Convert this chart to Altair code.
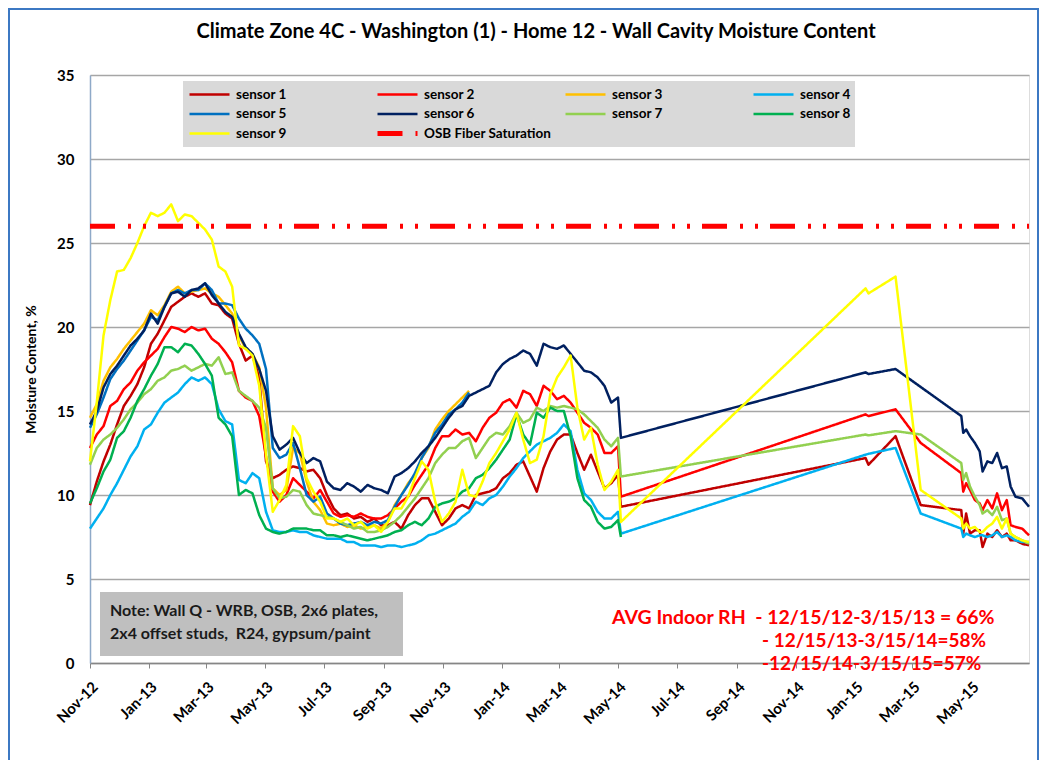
import altair as alt
import pandas as pd

# ---------------- text ----------------
title_text = "Climate Zone 4C - Washington (1) - Home 12 - Wall Cavity Moisture Content"
y_title = "Moisture Content, %"
note_lines = ["Note: Wall Q - WRB, OSB, 2x6 plates,", "2x4 offset studs,\u00a0 R24, gypsum/paint"]
rh_lines = ["AVG Indoor RH\u00a0 - 12/15/12-3/15/13 = 66%", "- 12/15/13-3/15/14=58%", "-12/15/14-3/15/15=57%"]

# ---------------- series ----------------
series_names = ["sensor 1", "sensor 2", "sensor 3", "sensor 4", "sensor 5",
                "sensor 6", "sensor 7", "sensor 8", "sensor 9"]
series_colors = ["#C00000", "#FF0000", "#FFC000", "#00B0F0", "#0070C0",
                 "#002060", "#92D050", "#00B050", "#FFFF00"]
osb_name = "OSB Fiber Saturation"
osb_color = "#FF0000"

# weekly readings from 2012-11-01 (79 weeks, to 2014-05-01)
weekly_start = "2012-11-01"
weekly_count = 79

s1_weekly = [9.4, 10.8, 12.0, 13.0, 14.2, 15.3, 15.9, 16.6, 17.6, 19.0, 19.6, 20.4, 21.2, 21.5, 21.8, 22.0, 21.8, 22.0, 21.4, 21.3, 20.8, 20.5, 19.0, 18.0, 18.3, 17.0, 12.0,
             11.0, 11.2, 11.5, 11.7, 11.6, 11.4, 11.5, 11.0, 10.0, 9.2, 8.8, 8.9, 8.6, 8.7, 8.4, 8.6, 8.2, 8.2, 8.4, 8.0, 8.8, 9.4, 9.8, 9.8,
             9.0, 8.2, 8.6, 9.2, 9.4, 9.2, 10.0, 10.1, 10.2, 10.4, 11.0, 11.3, 11.8, 12.0, 11.1, 10.2, 11.6, 12.6, 13.3, 13.6, 13.6, 12.5, 11.5, 12.4, 11.4, 10.4, 10.7, 11.2]
s2_weekly = [12.8, 13.6, 14.1, 15.3, 15.6, 16.3, 16.7, 17.4, 17.9, 18.3, 18.7, 19.4, 20.0, 19.9, 19.7, 20.0, 19.8, 19.9, 19.3, 19.0, 18.5, 17.9, 16.2, 15.8, 15.6, 14.7, 12.3,
             10.2, 9.6, 10.0, 11.0, 10.6, 10.2, 9.8, 10.3, 9.6, 8.9, 8.7, 8.8, 8.7, 8.9, 8.7, 8.6, 8.6, 8.8, 9.2, 9.6, 9.9, 10.6, 11.2, 11.8,
             12.8, 13.5, 13.5, 13.9, 13.6, 13.7, 13.2, 14.0, 14.6, 14.9, 15.5, 15.7, 15.2, 16.2, 16.0, 15.3, 16.5, 16.2, 15.7, 15.9, 15.5, 14.9, 14.3, 14.0, 13.6, 12.5, 12.5, 12.9]
s3_weekly = [14.6, 15.4, 16.8, 17.6, 18.1, 18.7, 19.2, 19.7, 20.2, 21.0, 20.7, 21.3, 22.1, 22.4, 22.0, 22.1, 22.2, 22.3, 22.0, 21.8, 21.3, 20.8, 19.5, 18.7, 18.4, 17.6, 15.2,
             10.4, 10.0, 10.3, 12.8, 12.5, 10.8, 9.6, 9.1, 8.3, 8.2, 8.3, 8.1, 8.2, 8.0, 8.1, 8.2, 8.0, 8.4, 9.4, 10.0, 10.7, 11.2, 12.2, 12.8,
             13.9, 14.5, 15.0, 15.4, 15.8, 16.2]
s4_weekly = [8.0, 8.6, 9.2, 10.0, 10.7, 11.5, 12.3, 12.9, 13.9, 14.2, 14.9, 15.5, 15.8, 16.1, 16.6, 17.0, 16.8, 17.0, 16.6, 15.1, 14.4, 14.2, 10.9, 10.7, 11.3, 11.0, 9.0,
             7.9, 7.8, 7.8, 7.9, 7.8, 7.8, 7.6, 7.5, 7.4, 7.4, 7.4, 7.2, 7.2, 7.0, 7.0, 7.0, 6.9, 7.0, 7.0, 6.9, 7.0, 7.1, 7.3, 7.6,
             7.7, 7.9, 8.1, 8.3, 8.7, 9.0, 9.6, 9.4, 9.8, 10.0, 10.5, 11.1, 11.6, 12.2, 12.6, 13.0, 13.2, 13.4, 13.7, 14.2, 13.8, 11.5, 10.1, 9.7, 9.0, 8.6, 8.6, 9.0]
s5_weekly = [14.0, 14.8, 15.8, 16.9, 17.5, 18.0, 18.6, 19.2, 19.8, 20.6, 20.4, 21.2, 22.0, 22.2, 22.0, 22.2, 22.2, 22.6, 22.2, 21.4, 21.4, 21.3, 20.5, 19.9, 19.5, 19.0, 17.5,
             12.8, 12.2, 12.4, 13.1, 11.6, 10.0, 9.6, 9.9, 8.9, 8.6, 8.3, 8.2, 8.3, 8.4, 8.2, 8.4, 8.3, 8.5, 9.3, 10.0, 10.6, 11.3, 12.2, 12.9,
             13.7, 14.2, 14.8, 15.1, 15.5, 16.1]
s6_weekly = [14.2, 15.0, 16.4, 17.2, 17.7, 18.3, 18.9, 19.3, 19.8, 20.8, 20.2, 21.2, 22.0, 22.1, 21.8, 22.2, 22.3, 22.6, 21.9, 21.4, 20.9, 20.6, 19.6, 18.8, 18.4, 17.5, 16.2,
             13.5, 12.7, 13.0, 13.4, 12.5, 11.9, 12.2, 12.0, 10.8, 10.4, 10.3, 10.7, 10.5, 10.2, 10.6, 10.4, 10.3, 10.1, 11.1, 11.3, 11.6, 12.0, 12.5, 12.9,
             13.4, 14.0, 14.6, 15.1, 15.3, 15.9, 16.1, 16.3, 16.5, 17.3, 17.8, 18.1, 18.3, 18.6, 18.4, 17.7, 19.0, 18.8, 18.7, 18.9, 18.4, 17.9, 17.4, 17.3, 17.0, 16.5, 15.5, 15.8]
s7_weekly = [11.8, 12.8, 13.3, 13.6, 14.0, 14.5, 15.1, 15.5, 16.0, 16.3, 16.8, 17.0, 17.4, 17.5, 17.7, 17.4, 17.6, 17.8, 17.7, 18.2, 17.2, 17.3, 16.2, 15.9, 15.6, 15.2, 14.0,
             10.4, 9.8, 9.9, 10.3, 10.2, 9.4, 8.9, 8.8, 8.7, 8.6, 8.4, 8.2, 8.0, 8.1, 7.8, 7.8, 7.9, 8.1, 8.4, 8.8, 9.3, 9.8, 10.4, 11.0,
             11.9, 12.4, 12.8, 12.8, 13.2, 13.4, 12.2, 12.8, 13.4, 13.7, 13.6, 14.1, 14.9, 14.3, 14.5, 15.2, 15.0, 15.3, 15.2, 15.3, 15.2, 15.1, 14.8, 14.4, 14.0, 13.3, 12.9, 13.4]
s8_weekly = [9.5, 10.4, 11.4, 12.1, 13.4, 13.8, 14.6, 15.6, 16.3, 17.1, 17.8, 18.8, 18.8, 18.5, 19.0, 18.9, 18.4, 17.8, 17.1, 14.6, 14.2, 13.5, 10.0, 10.3, 10.1, 8.8, 8.0,
             7.8, 7.7, 7.8, 8.0, 8.0, 8.0, 7.9, 7.9, 7.6, 7.6, 7.5, 7.6, 7.5, 7.4, 7.3, 7.4, 7.5, 7.6, 7.8, 7.9, 8.2, 8.4, 8.2, 8.6,
             9.3, 9.5, 9.6, 9.8, 10.2, 10.4, 11.0, 11.2, 11.6, 12.1, 12.7, 13.3, 14.8, 13.6, 13.0, 14.9, 14.6, 15.2, 15.0, 15.0, 13.5, 11.0, 9.7, 9.3, 8.4, 8.0, 8.1, 8.5]
s9_weekly = [12.0, 15.5, 19.5, 21.6, 23.3, 23.4, 24.1, 25.0, 26.0, 26.8, 26.6, 26.8, 27.3, 26.3, 26.7, 26.6, 26.2, 25.8, 25.2, 23.6, 23.3, 22.4, 18.9, 18.7, 18.3, 16.5, 12.4,
             9.0, 9.7, 10.6, 14.1, 13.5, 11.0, 10.2, 9.6, 8.6, 8.6, 8.4, 8.6, 8.2, 8.4, 8.0, 8.2, 7.8, 8.4, 9.2, 9.2, 9.9, 11.0, 12.0, 11.5,
             9.6, 8.4, 8.9, 9.6, 11.5, 10.0, 9.9, 10.8, 11.9, 12.5, 13.2, 13.9, 14.9, 13.3, 11.9, 12.1, 13.5, 16.0, 17.0, 17.6, 18.3, 15.2, 13.3, 14.0, 11.8, 10.3, 10.8, 11.5]

# readings after the weekly block (gap in logging May 2014 - Jan 2015)
gap_dates = ["2014-05-04", "2015-01-12", "2015-01-15", "2015-02-12", "2015-03-10"]
gap_dates_s6 = ["2014-05-04", "2015-01-12", "2015-01-15", "2015-02-12"]
gap_dates_s8 = ["2014-05-04"]
end_dates = ["2015-04-21", "2015-04-23", "2015-04-26", "2015-04-30", "2015-05-05", "2015-05-10",
             "2015-05-13", "2015-05-18", "2015-05-23", "2015-05-28", "2015-06-02", "2015-06-07",
             "2015-06-11", "2015-06-16", "2015-06-23", "2015-06-30"]

s1_gap = [9.3, 12.2, 11.8, 13.5, 9.4]
s1_end = [9.1, 7.7, 8.9, 7.7, 7.9, 7.9, 6.9, 7.7, 7.5, 7.9, 7.5, 7.7, 7.3, 7.3, 7.1, 7.0]
s2_gap = [9.9, 14.8, 14.7, 15.1, 13.1]
s2_end = [11.3, 10.2, 10.7, 10.3, 9.7, 9.5, 9.1, 9.7, 9.2, 10.1, 9.1, 9.7, 8.2, 8.1, 8.0, 7.6]
s4_gap = [7.7, 12.4, 12.45, 12.8, 8.9]
s4_end = [8.0, 7.5, 7.7, 7.6, 7.5, 7.6, 7.6, 7.5, 7.6, 7.8, 7.5, 7.6, 7.5, 7.3, 7.2, 7.2]
s6_gap = [13.4, 17.3, 17.2, 17.5]
s6_end = [14.7, 13.7, 13.9, 13.5, 13.1, 12.6, 11.4, 12.0, 11.9, 12.5, 11.6, 11.7, 10.5, 9.9, 9.8, 9.3]
s7_gap = [11.1, 13.6, 13.55, 13.8, 13.6]
s7_end = [11.9, 10.9, 11.3, 10.5, 9.9, 9.4, 8.9, 9.1, 8.8, 9.3, 8.5, 8.6, 7.7, 7.5, 7.3, 7.1]
s8_gap = [7.5]
s9_gap = [8.4, 22.3, 22.0, 23.0, 10.3]
s9_end = [8.6, 8.0, 8.3, 8.0, 8.1, 7.8, 7.8, 8.1, 8.3, 8.7, 8.0, 8.6, 7.7, 7.5, 7.3, 7.2]

osb_dates = ["2012-11-01", "2015-06-30"]
osb_values = [26, 26]

# ---------------- table ----------------
weekly_dates = pd.date_range(weekly_start, periods=weekly_count, freq="7D").strftime("%Y-%m-%d").tolist()

parts = {
    "sensor 1": [(weekly_dates, s1_weekly), (gap_dates, s1_gap), (end_dates, s1_end)],
    "sensor 2": [(weekly_dates, s2_weekly), (gap_dates, s2_gap), (end_dates, s2_end)],
    "sensor 3": [(weekly_dates, s3_weekly)],
    "sensor 4": [(weekly_dates, s4_weekly), (gap_dates, s4_gap), (end_dates, s4_end)],
    "sensor 5": [(weekly_dates, s5_weekly)],
    "sensor 6": [(weekly_dates, s6_weekly), (gap_dates_s6, s6_gap), (end_dates, s6_end)],
    "sensor 7": [(weekly_dates, s7_weekly), (gap_dates, s7_gap), (end_dates, s7_end)],
    "sensor 8": [(weekly_dates, s8_weekly), (gap_dates_s8, s8_gap)],
    "sensor 9": [(weekly_dates, s9_weekly), (gap_dates, s9_gap), (end_dates, s9_end)],
}
rows = []
for name in series_names:
    for dts, vals in parts[name]:
        for d, v in zip(dts, vals):
            rows.append({"date": d, "value": v, "series": name})
df = pd.DataFrame(rows)
osb_df = pd.DataFrame({"date": osb_dates, "value": osb_values, "series": [osb_name] * len(osb_dates)})

# ---------------- encodings ----------------
FONT = "Lato"
names_all = series_names + [osb_name]
color_scale = alt.Scale(domain=names_all, range=series_colors + [osb_color])
dash_scale = alt.Scale(domain=names_all, range=[[1, 0]] * 9 + [[25, 13, 3, 12, 3, 12]])
width_scale = alt.Scale(type="ordinal", domain=names_all, range=[2.5] * 9 + [5])

leg = alt.Legend(title=None, orient="none", legendX=93, legendY=6, columns=4, direction="horizontal",
                 fillColor="#D9D9D9", padding=4, symbolType="stroke", symbolSize=1600, clipHeight=19,
                 labelFont=FONT, labelFontSize=13.5, labelFontWeight="bold", labelColor="#000000",
                 gridAlign="all", columnPadding=11, rowPadding=0.5, labelLimit=300, labelOffset=4)

x_axis = alt.Axis(title=None, format="%b-%y", tickCount={"interval": "month", "step": 2},
                  labelAngle=-45, labelAlign="right", labelBaseline="top", labelPadding=11,
                  labelFont=FONT, labelFontSize=15, labelFontWeight="bold", labelColor="#000000",
                  grid=False, domainColor="#868686", domainWidth=1.5, tickColor="#868686", tickSize=5,
                  labelOverlap=False, labelFlush=False)
y_axis = alt.Axis(title=y_title, values=[0, 5, 10, 15, 20, 25, 30, 35], grid=True,
                  gridColor="#A6A6A6", gridWidth=1.3, domainColor="#8EA9C8", domainWidth=1.5,
                  ticks=False, labelPadding=16, labelFont=FONT, labelFontSize=15,
                  labelFontWeight="bold", labelColor="#000000", titleFont=FONT, titleFontSize=14,
                  titleFontWeight="bold", titleColor="#000000", titlePadding=18)

x_enc = alt.X("date:T", axis=x_axis,
              scale=alt.Scale(domain=[alt.DateTime(year=2012, month=11, date=1),
                                      alt.DateTime(year=2015, month=6, date=30)], nice=False))
y_enc = alt.Y("value:Q", axis=y_axis, scale=alt.Scale(domain=[0, 35], nice=False))

def line_enc(chart):
    return chart.encode(
        x=x_enc, y=y_enc,
        color=alt.Color("series:N", scale=color_scale, legend=leg),
        strokeDash=alt.StrokeDash("series:N", scale=dash_scale, legend=leg),
        strokeWidth=alt.StrokeWidth("series:N", scale=width_scale, legend=leg),
    )

layers = []
for name in series_names:
    layers.append(line_enc(alt.Chart(df).transform_filter(alt.datum.series == name)
                           .mark_line(strokeJoin="round")))
layers.append(line_enc(alt.Chart(osb_df).mark_line()))

def text_layer(txt, x, y, size, color, align="left"):
    return alt.Chart(pd.DataFrame({"t": [txt]})).mark_text(
        align=align, baseline="middle", font=FONT, fontSize=size, fontWeight="bold", color=color
    ).encode(text="t:N", x=alt.value(x), y=alt.value(y))

one = pd.DataFrame({"a": [0]})
# note box
layers.append(alt.Chart(one).mark_rect(color="#BFBFBF").encode(
    x=alt.value(10), x2=alt.value(313), y=alt.value(517), y2=alt.value(581)))
layers.append(text_layer(note_lines[0], 20, 536, 16, "#1A1A1A"))
layers.append(text_layer(note_lines[1], 20, 559, 16, "#1A1A1A"))
# indoor RH annotation
layers.append(text_layer(rh_lines[0], 522, 543, 19.5, "#FF0000"))
layers.append(text_layer(rh_lines[1], 672, 566, 19, "#FF0000"))
layers.append(text_layer(rh_lines[2], 672, 589, 19, "#FF0000"))
# chart title
layers.append(text_layer(title_text, 446, -43, 20, "#000000", align="center"))
# outer chart frame
layers.append(alt.Chart(one).mark_rect(filled=False, stroke="#3C78C3", strokeWidth=2).encode(
    x=alt.value(-81), x2=alt.value(948), y=alt.value(-66), y2=alt.value(720)))

chart = alt.layer(*layers).properties(
    width=939, height=588,
    autosize=alt.AutoSizeParams(type="none"),
    padding={"left": 82, "top": 67, "right": 10, "bottom": 97},
    background="#FFFFFF",
).configure_view(stroke="#2F75B5", strokeWidth=1.5).configure(font=FONT)

chart.save("out.html", embed_options={"renderer": "svg", "actions": False})
